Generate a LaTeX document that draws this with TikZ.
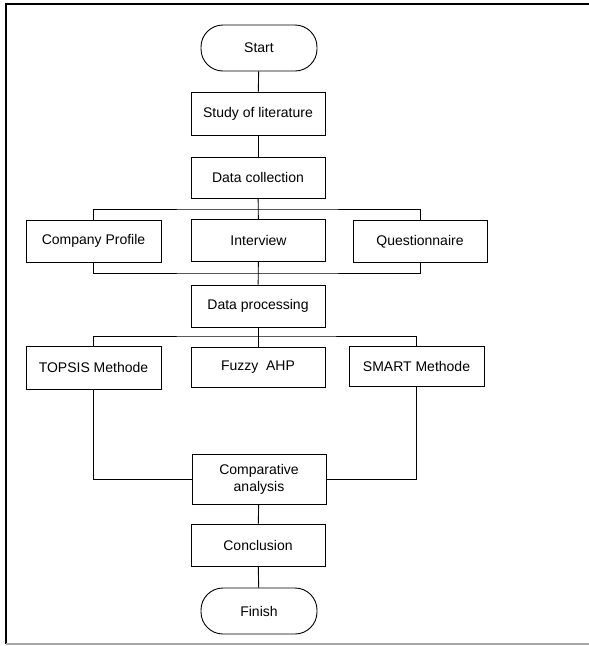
\documentclass[tikz,border=0pt]{standalone}
\usepackage{fontspec}
\setmainfont{Liberation Sans}
\usetikzlibrary{calc}

\begin{document}
\begin{tikzpicture}[x=1pt, y=-1pt, font=\fontsize{14}{17}\selectfont,
  box/.style={draw, line width=0.9pt, minimum width=134pt, minimum height=42pt, inner sep=2pt, align=center},
  term/.style={draw, line width=0.9pt, rounded corners=22pt, minimum width=116pt, minimum height=46pt},
  link/.style={line width=0.9pt}]

\useasboundingbox (0,0) rectangle (589,646);

\begin{scope}[line width=1.5pt]
\draw (589,4) -- (6,4) -- (6,644);
\draw[gray!70] (6,644) -- (589,644);
\end{scope}

\node[term] (start) at (259,48) {Start};
\node[box, minimum height=43pt] (lit) at (258,113.5) {Study of literature};
\node[box, minimum height=41pt] (coll) at (258,177.5) {Data collection};

\node[box, minimum width=135pt] (prof) at (93.5,241) {Company Profile};
\node[box] (intv) at (258.5,240.5) {Interview};
\node[box] (quest) at (420,241.5) {Questionnaire};

\node[box] (proc) at (258,306) {Data processing};

\node[box, minimum width=135pt, minimum height=43pt] (topsis) at (93.5,367.5) {TOPSIS Methode};
\node[box, minimum height=40pt] (fuzzy) at (258,367) {Fuzzy~~AHP};
\node[box, minimum width=135pt, minimum height=40pt] (smart) at (416.5,366) {SMART Methode};

\node[box, minimum height=50pt] (comp) at (259,479) {Comparative\\analysis};
\node[box] (concl) at (258,545) {Conclusion};
\node[term] (finish) at (259,611) {Finish};

\coordinate (split1) at (258,209);
\coordinate (merge1) at (258,273);
\coordinate (split2) at (258,336);

\begin{scope}[link]
\draw (start) -- (lit);
\draw (lit) -- (coll);
\draw (coll) -- (intv);
\draw (prof.north) |- (split1) -| (quest.north);
\draw (prof.south) |- (merge1) -| (quest.south);
\draw (intv) -- (proc);
\draw (proc) -- (fuzzy);
\draw (topsis.north) |- (split2) -| (smart.north);
\draw (topsis.south) |- (comp.west);
\draw (smart.south) |- (comp.east);
\draw (comp) -- (concl);
\draw (concl) -- (finish);
\end{scope}

\end{tikzpicture}
\end{document}
